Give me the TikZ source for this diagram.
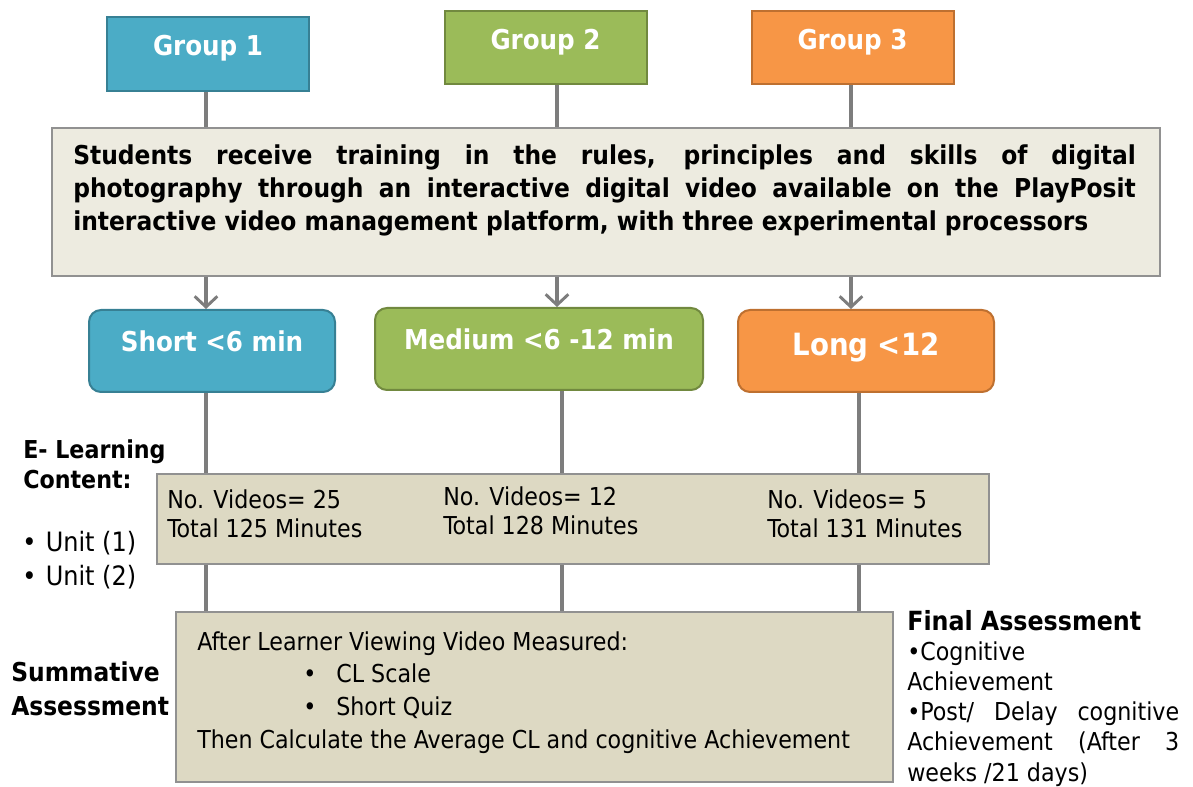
\documentclass[tikz,border=0pt]{standalone}
\usepackage{fontspec}
\setmainfont{DejaVu Sans Condensed}
\usetikzlibrary{arrows.meta}

\definecolor{grpblue}{RGB}{75,172,198}
\definecolor{grpbluedark}{RGB}{55,128,148}
\definecolor{grpgreen}{RGB}{155,187,89}
\definecolor{grpgreendark}{RGB}{113,137,63}
\definecolor{grporange}{RGB}{247,150,70}
\definecolor{grporangedark}{RGB}{190,112,48}
\definecolor{trainfill}{RGB}{237,235,224}
\definecolor{contentfill}{RGB}{221,217,195}
\definecolor{linkgray}{RGB}{125,125,125}
\definecolor{boxgray}{RGB}{145,145,145}

\begin{document}
\begin{tikzpicture}[x=0.75pt,y=0.75pt,yscale=-1,xscale=1,
	groupbox/.style={draw=#1dark,fill=#1,line width=1.5pt,text=white,font=\fontsize{20.5}{24}\selectfont\bfseries,minimum width=151.5pt,minimum height=55pt,inner sep=0pt,text height=15.4pt,text depth=12.8pt},
	phasebox/.style={draw=#1dark,fill=#1,line width=1.5pt,rounded corners=9pt,text=white,font=\fontsize{20.5}{24}\selectfont\bfseries,minimum height=61.5pt,inner sep=0pt,text height=15.4pt,text depth=14.5pt},
	plainbox/.style={draw=boxgray,fill=#1,line width=1.2pt,inner sep=0pt},
	link/.style={draw=linkgray,line width=2.5pt},
	linkarrow/.style={link,-{Straight Barb[length=8pt,width=17pt,line width=2.2pt]}},
	txt/.style={anchor=north west,inner sep=0pt,align=left}
	]
	\useasboundingbox (0,0) rectangle (1193,787);

	% columns of the connectors
	\coordinate (colA) at (206,0);
	\coordinate (colB) at (557,0);
	\coordinate (colC) at (851,0);
	\coordinate (colD) at (562,0);
	\coordinate (colE) at (859,0);

	% Groups
	\node[groupbox=grpblue] (g1) at (208,54) {Group 1};
	\node[groupbox=grpgreen] (g2) at (545.5,47.5) {Group 2};
	\node[groupbox=grporange] (g3) at (852.5,47.5) {Group 3};

	% Training box
	\node[plainbox=trainfill,minimum width=831pt,minimum height=111pt] (train) at (606,202) {};
	% Text Node
	\node[txt,text width=797pt,align=justify,font=\fontsize{19.5}{24.75}\selectfont\bfseries] (traintext) at (73,144.5) {Students receive training in the rules, principles and skills of digital\linebreak photography through an interactive digital video available on the PlayPosit\linebreak interactive video management platform, with three experimental processors};

	% Video length
	\node[phasebox=grpblue,minimum width=184.5pt] (short) at (212,351) {Short <6 min};
	\node[phasebox=grpgreen,minimum width=246pt] (medium) at (539,349) {Medium <6 -12 min};
	\node[phasebox=grporange,minimum width=192pt,font=\fontsize{23}{27}\selectfont\bfseries,text height=17.25pt,text depth=10.7pt] (long) at (866,351) {Long <12};

	% Content box
	\node[plainbox=contentfill,minimum width=624pt,minimum height=67.5pt] (content) at (573,519) {};
	% Text Node
	\node[txt,font=\fontsize{18.5}{21.75}\selectfont] (vidA) at (167,489) {No. Videos= 25\\Total 125 Minutes};
	% Text Node
	\node[txt,font=\fontsize{18.5}{21.75}\selectfont] (vidB) at (443,486) {No. Videos= 12\\Total 128 Minutes};
	% Text Node
	\node[txt,font=\fontsize{18.5}{21.75}\selectfont] (vidC) at (767,489) {No. Videos= 5\\Total 131 Minutes};

	% Measure box
	\node[plainbox=contentfill,minimum width=537.75pt,minimum height=127.5pt] (measure) at (534.5,697) {};
	% Text Node
	\node[txt,font=\fontsize{18.5}{24.5}\selectfont] (measuretext) at (197,631) {After Learner Viewing Video Measured:\\\hspace*{79.5pt}\textbullet\hspace*{15pt}CL Scale\\\hspace*{79.5pt}\textbullet\hspace*{15pt}Short Quiz\\Then Calculate the Average CL and cognitive Achievement};

	% Text Node
	\node[txt,font=\fontsize{18.5}{22.5}\selectfont\bfseries] (elearn) at (23,439) {E- Learning\\Content:};
	% Text Node
	\node[txt,font=\fontsize{20}{25.5}\selectfont] (units) at (22,531) {\textbullet\hspace{7pt}Unit (1)\\\textbullet\hspace{7pt}Unit (2)};
	% Text Node
	\node[txt,font=\fontsize{19.5}{25.5}\selectfont\bfseries] (summ) at (11,661) {Summative\\Assessment};
	% Text Node
	\node[txt,font=\fontsize{19.8}{24}\selectfont\bfseries] (finalhead) at (907,610) {Final Assessment};
	% Text Node
	\node[txt,text width=204pt,align=justify,font=\fontsize{18.5}{22.7}\selectfont] (finallist) at (907,641) {\textbullet Cognitive\newline Achievement\newline \textbullet Post/ Delay cognitive\linebreak Achievement (After 3\linebreak weeks /21 days)};

	% Connectors
	\draw[link] (g1.south -| colA) -- (train.north -| colA);
	\draw[link] (g2.south -| colB) -- (train.north -| colB);
	\draw[link] (g3.south -| colC) -- (train.north -| colC);
	\draw[linkarrow] (train.south -| colA) -- (short.north -| colA);
	\draw[linkarrow] (train.south -| colB) -- (medium.north -| colB);
	\draw[linkarrow] (train.south -| colC) -- (long.north -| colC);
	\draw[link] (short.south -| colA) -- (content.north -| colA);
	\draw[link] (medium.south -| colD) -- (content.north -| colD);
	\draw[link] (long.south -| colE) -- (content.north -| colE);
	\draw[link] (content.south -| colA) -- (measure.north -| colA);
	\draw[link] (content.south -| colD) -- (measure.north -| colD);
	\draw[link] (content.south -| colE) -- (measure.north -| colE);

\end{tikzpicture}
\end{document}
